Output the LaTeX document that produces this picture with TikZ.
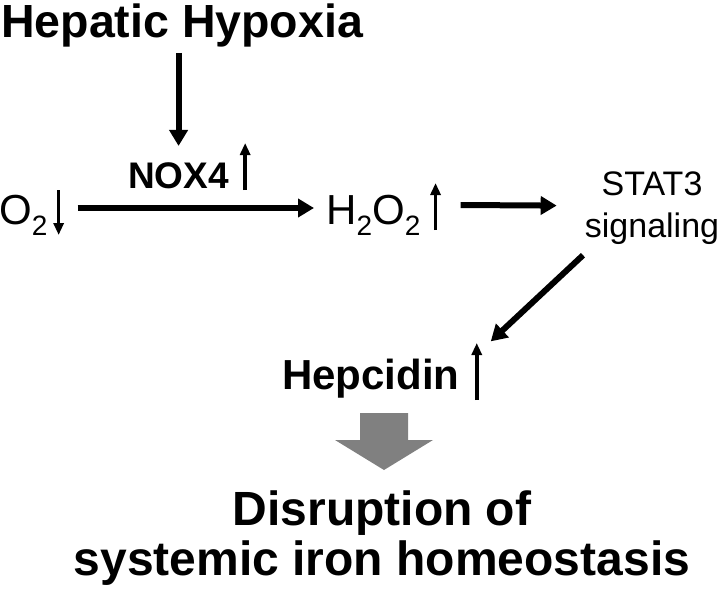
\documentclass[tikz,border=0pt]{standalone}
\usepackage{fontspec}
\setmainfont{Liberation Sans}
\usetikzlibrary{arrows.meta}

\newcommand{\subtwo}{\raisebox{-0.28em}{\fontsize{28}{30}\selectfont 2}}

\tikzset{
    labeltext/.style={inner sep=0pt, anchor=base west},
    bigarrow/.style={-{Triangle[length=16pt,width=18pt]}, line width=6pt},
    smallarrow/.style={-{Triangle[length=12pt,width=10pt]}, line width=3.5pt}
}

\begin{document}
\begin{tikzpicture}[x=1pt, y=-1pt]
    \useasboundingbox (0,0) rectangle (726,590);

    % Text of the pathway
    \node[labeltext, font=\fontsize{46.5}{52}\selectfont\bfseries] (hh) at (1,37) {Hepatic Hypoxia};
    \node[labeltext, font=\fontsize{37}{42}\selectfont\bfseries] (nox) at (128,188) {NOX4};
    \node[labeltext, font=\fontsize{42}{48}\selectfont] (o2) at (-1,224) {O\subtwo};
    \node[labeltext, font=\fontsize{42}{48}\selectfont] (h2o2) at (326,224) {H\subtwo O\subtwo};
    \node[inner sep=0pt, anchor=north, align=center, font=\fontsize{34}{42}\selectfont] (stat) at (652,172) {STAT3\\signaling};
    \node[labeltext, font=\fontsize{42}{48}\selectfont\bfseries] (hep) at (282,389) {Hepcidin};
    \node[inner sep=0pt, anchor=north, align=center, font=\fontsize{48}{50}\selectfont\bfseries] (dis) at (382,491) {Disruption of\\systemic iron homeostasis};

    % Main arrows
    \draw[bigarrow, shorten <=6pt, shorten >=16pt] (nox.north |- hh.south) -- (nox.north);
    \draw[bigarrow] ([xshift=30pt, yshift=16pt]o2.base east) -- ([xshift=-12pt, yshift=16pt]h2o2.base west);
    \draw[bigarrow] ([xshift=40pt, yshift=19pt]h2o2.base east) -- ([xshift=-28pt, yshift=3pt]stat.west);
    \draw[bigarrow] ([xshift=-69pt, yshift=-10pt]stat.south) -- ([xshift=31pt, yshift=17pt]hep.north east);

    % Up and down marks
    \draw[smallarrow] ([xshift=16pt, yshift=-2pt]nox.base east) -- ([xshift=16pt, yshift=45pt]nox.base east);
    \draw[smallarrow] ([xshift=11pt, yshift=34pt]o2.base east) -- ([xshift=11pt, yshift=-11pt]o2.base east);
    \draw[smallarrow] ([xshift=15pt, yshift=-6pt]h2o2.base east) -- ([xshift=15pt, yshift=41pt]h2o2.base east);
    \draw[smallarrow] ([xshift=17pt, yshift=-11pt]hep.base east) -- ([xshift=17pt, yshift=46pt]hep.base east);

    % Grey block arrow
    \fill[black!50] (360,413) -- (408,413) -- (408,440) -- (433,440) -- (384,470) -- (335,440) -- (360,440) -- cycle;
\end{tikzpicture}
\end{document}
